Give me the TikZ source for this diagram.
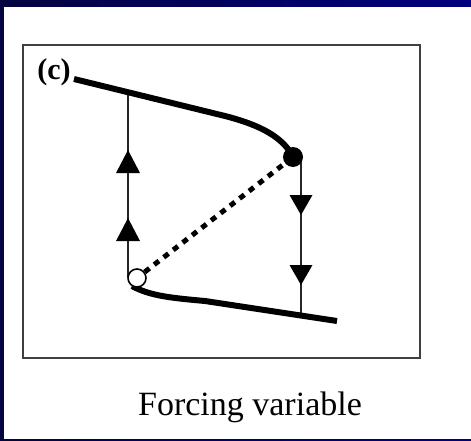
\documentclass[tikz,border=0pt]{standalone}
\usepackage{fontspec}
\setmainfont{Liberation Serif}
\usetikzlibrary{calc}
\definecolor{navyL}{RGB}{4,4,64}
\definecolor{navyR}{RGB}{0,0,128}
\tikzset{
  branch/.style={line width=6pt, line cap=butt},
  thinline/.style={line width=2pt, black!85},
  unstable/.style={line width=5pt, dash pattern=on 6pt off 6pt},
  upTri/.pic={\fill (0,0) -- (-12,23) -- (12,23) -- cycle;},
  downTri/.pic={\fill (0,0) -- (-11.5,-20) -- (11.5,-20) -- cycle;},
  fulldot/.style={circle, fill=black, inner sep=0pt, minimum size=20pt},
  opendot/.style={circle, draw=black, line width=1.6pt, fill=white, inner sep=0pt, minimum size=18pt},
  framebox/.style={draw=black!75, line width=1.5pt}
}
\begin{document}
\begin{tikzpicture}[x=1pt,y=-1pt]
\useasboundingbox (0,0) rectangle (471,441);
% slide background
\shade[left color=navyL, right color=navyR] (0,0) rectangle (471,441);
\fill[white] (4,7) rectangle (471,439);
% figure frame
\draw[framebox] (23,45) rectangle (420,358);
\node[font=\bfseries\fontsize{30}{32}\selectfont, inner sep=0pt] (lab) at (54,72) {(c)};
% equilibrium points
\coordinate (ub0) at (74,79);
\coordinate (lb1) at (337,321);
\coordinate (lt) at (128,93);
\coordinate (rb) at (301,315);
% thin vertical transitions
\draw[thinline] (128,277) -- (lt);
\draw[thinline] (301,160) -- (rb);
% branches
\node[fulldot] (fd) at (293,157) {};
\draw[branch] (ub0) -- (225,116) .. controls (260,125) and (283,137) .. (fd.center);
\draw[branch] (132,286) .. controls (150,296) and (172,298) .. (205,301) -- (lb1);
\node[opendot] (oc) at (137,278) {};
\draw[unstable] (oc) -- (fd);
% arrowheads
\pic at (128,150) {upTri};
\pic at (128,218) {upTri};
\pic at (301,215) {downTri};
\pic at (301,285) {downTri};
% axis label
\node[font=\fontsize{34}{36}\selectfont, anchor=base, inner sep=0pt] (xl) at (250,415) {Forcing variable};
\end{tikzpicture}
\end{document}
